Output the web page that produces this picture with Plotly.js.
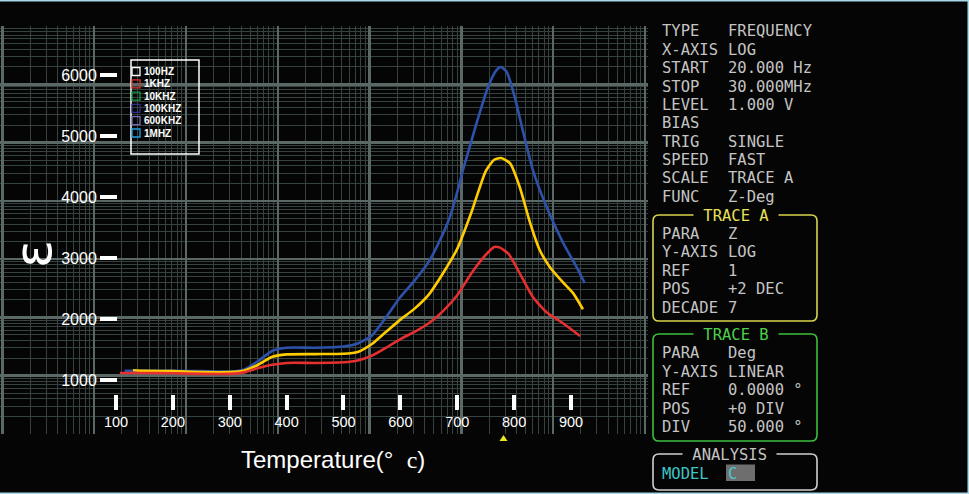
<!DOCTYPE html>
<html><head><meta charset="utf-8">
<script src="https://cdn.plot.ly/plotly-3.0.1.min.js"></script>
<style>html,body{margin:0;padding:0;background:#050505;overflow:hidden}#chart{width:969px;height:494px}</style>
</head><body><div id="chart"></div>
<script>
// ---- data (temperature in °C, permittivity) ----
const redTemp = [107,150,200,250,300,325,350,375,400,450,500,525,550,575,600,625,650,675,700,725,750,765,775,790,800,815,833,857,886,916];
const redEps  = [1115,1115,1110,1100,1100,1125,1195,1250,1280,1280,1290,1320,1400,1530,1670,1790,1930,2130,2390,2750,3050,3180,3170,3070,2920,2660,2360,2110,1930,1720];
const yellowTemp = [130,150,200,250,300,325,350,375,400,450,500,525,550,575,600,625,650,675,700,725,750,765,777,793,810,828,845,863,886,904,921];
const yellowEps  = [1160,1150,1145,1130,1130,1150,1250,1380,1420,1425,1430,1460,1590,1790,1990,2170,2400,2750,3150,3750,4420,4610,4640,4550,4160,3580,3130,2850,2600,2420,2160];
const blueTemp = [115,150,200,250,300,325,350,375,400,450,500,525,550,575,600,625,650,675,687,700,710,725,734,754,769,777,787,801,815,833,857,886,910,924];
const blueEps  = [1150,1150,1150,1145,1140,1170,1310,1480,1530,1530,1550,1600,1730,2030,2360,2630,2940,3400,3670,4080,4440,4920,5210,5800,6080,6130,6050,5640,5100,4440,3840,3250,2850,2590];

const xTickVals = [100,200,300,400,500,600,700,800,900];
const yTickVals = [1000,2000,3000,4000,5000,6000];
const legendLabels = ['100HZ','1KHZ','10KHZ','100KHZ','600KHZ','1MHZ'];
const legendColors = ['#ffffff','#e03030','#109a44','#2e2e8c','#7a6ab4','#1e9ee6'];

const setupLabels = ['TYPE','X-AXIS','START','STOP','LEVEL','BIAS','TRIG','SPEED','SCALE','FUNC'];
const setupValues = ['FREQUENCY','LOG','20.000 Hz','30.000MHz','1.000 V','','SINGLE','FAST','TRACE A','Z-Deg'];
const traceALabels = ['PARA','Y-AXIS','REF','POS','DECADE'];
const traceAValues = ['Z','LOG','1','+2 DEC','7'];
const traceBLabels = ['PARA','Y-AXIS','REF','POS','DIV'];
const traceBValues = ['Deg','LINEAR','0.0000 °','+0 DIV','50.000 °'];

// ---- pixel helpers (plot area 0..648 x 26..434) ----
const PW = 648, PH = 408, PB = 434;
const px = x => x / PW;
const py = y => (PB - y) / PH;

function rbox(x0, y0, x1, y1, r) {
  const P = (x, y) => px(x).toFixed(5) + ',' + py(y).toFixed(5);
  return 'M' + P(x0 + r, y0) + ' L' + P(x1 - r, y0) + ' Q' + P(x1, y0) + ' ' + P(x1, y0 + r) +
    ' L' + P(x1, y1 - r) + ' Q' + P(x1, y1) + ' ' + P(x1 - r, y1) +
    ' L' + P(x0 + r, y1) + ' Q' + P(x0, y1) + ' ' + P(x0, y1 - r) +
    ' L' + P(x0, y0 + r) + ' Q' + P(x0, y0) + ' ' + P(x0 + r, y0) + ' Z';
}

const lineTrace = (x, y, color) => ({
  x: x, y: y, type: 'scatter', mode: 'lines', xaxis: 'x2', yaxis: 'y2',
  line: {color: color, width: 2.6, shape: 'spline', smoothing: 0.6},
  hoverinfo: 'skip', showlegend: false
});

const data = [
  {x: [], y: [], type: 'scatter', mode: 'lines', xaxis: 'x', yaxis: 'y', showlegend: false, hoverinfo: 'skip'},
  lineTrace(blueTemp, blueEps, '#2c52aa'),
  lineTrace(yellowTemp, yellowEps, '#ffcc00'),
  lineTrace(redTemp, redEps, '#e63030')
];

const gridAxis = (range) => ({
  type: 'log', range: range, dtick: 1, showgrid: true, gridcolor: '#5a6965', gridwidth: 2.5,
  minor: {dtick: 'D1', showgrid: true, gridcolor: '#36423f', gridwidth: 1, ticks: ''},
  showticklabels: false, ticks: '', zeroline: false, showline: false, fixedrange: true
});

const shapes = [];
const annotations = [];

// legend box
shapes.push({type: 'rect', xref: 'paper', yref: 'paper', x0: px(131), x1: px(199), y0: py(60), y1: py(154),
  line: {color: '#ffffff', width: 1.5}, fillcolor: 'rgba(0,0,0,0)'});
legendLabels.forEach((lab, i) => {
  const yc = 71.5 + i * 12.3;
  shapes.push({type: 'rect', xref: 'paper', yref: 'paper', x0: px(132), x1: px(140), y0: py(yc - 4), y1: py(yc + 4),
    line: {color: legendColors[i], width: 1.3}, fillcolor: 'rgba(0,0,0,0)'});
  annotations.push({xref: 'paper', yref: 'paper', x: px(142), y: py(yc), xanchor: 'left', yanchor: 'middle',
    text: '<b>' + lab + '</b>', showarrow: false, font: {family: 'Liberation Sans, Arial', size: 10, color: '#ffffff'}});
});

// axis titles
annotations.push({xref: 'paper', yref: 'paper', x: px(33), y: py(254), text: 'ε', textangle: -90, showarrow: false,
  xanchor: 'center', yanchor: 'middle', font: {family: 'DejaVu Sans', size: 52, color: '#ffffff'}});
annotations.push({xref: 'paper', yref: 'paper', x: px(239), y: py(459), xanchor: 'left', yanchor: 'middle', showarrow: false,
  text: 'Temperature(°\u00a0\u00a0<span style="font-family:Liberation Serif">c</span>)',
  font: {family: 'Liberation Sans, Arial', size: 24, color: '#ffffff'}});

// marker triangle
shapes.push({type: 'path', xref: 'paper', yref: 'paper',
  path: 'M' + px(503.5) + ',' + py(435) + ' L' + px(507.5) + ',' + py(441) + ' L' + px(499.5) + ',' + py(441) + ' Z',
  fillcolor: '#e8e820', line: {width: 0}});

// page border (top, right, bottom)
const cyan = '#a8d8e8';
shapes.push({type: 'line', xref: 'paper', yref: 'paper', x0: px(0), x1: px(969), y0: py(0.5), y1: py(0.5), line: {color: cyan, width: 2}});
shapes.push({type: 'line', xref: 'paper', yref: 'paper', x0: px(968.5), x1: px(968.5), y0: py(0), y1: py(494), line: {color: cyan, width: 2}});
shapes.push({type: 'line', xref: 'paper', yref: 'paper', x0: px(0), x1: px(969), y0: py(493.5), y1: py(493.5), line: {color: cyan, width: 2}});

// right panel text
const mono = 'DejaVu Sans Mono, Liberation Mono, monospace';
const txt = (x, y, s, color, extra) => Object.assign({xref: 'paper', yref: 'paper', x: px(x), y: py(y), xanchor: 'left', yanchor: 'middle',
  text: s, showarrow: false, font: {family: mono, size: 15.5, color: color}}, extra || {});
const gray = '#c4c4c4';
setupLabels.forEach((l, i) => {
  const y = 31.5 + i * 18.37;
  annotations.push(txt(660, y, l, gray));
  if (setupValues[i]) annotations.push(txt(726, y, setupValues[i], gray));
});
// Trace A box
shapes.push({type: 'path', xref: 'paper', yref: 'paper', path: rbox(653, 215, 817, 321, 6), line: {color: '#d8d44e', width: 1.6}});
annotations.push(txt(735.5, 215.5, '\u00a0TRACE A\u00a0', '#e6e05a', {xanchor: 'center', bgcolor: '#050505', borderpad: 0}));
traceALabels.forEach((l, i) => {
  const y = 233.5 + i * 18.5;
  annotations.push(txt(660, y, l, gray));
  annotations.push(txt(726, y, traceAValues[i], gray));
});
// Trace B box
shapes.push({type: 'path', xref: 'paper', yref: 'paper', path: rbox(653, 334, 817, 441, 6), line: {color: '#3cc03c', width: 1.6}});
annotations.push(txt(735.5, 334.5, '\u00a0TRACE B\u00a0', '#4ed04e', {xanchor: 'center', bgcolor: '#050505', borderpad: 0}));
traceBLabels.forEach((l, i) => {
  const y = 353 + i * 18.5;
  annotations.push(txt(660, y, l, gray));
  annotations.push(txt(726, y, traceBValues[i], gray));
});
// Analysis box
shapes.push({type: 'path', xref: 'paper', yref: 'paper', path: rbox(653, 454, 817, 490, 6), line: {color: '#d0d0d0', width: 1.6}});
annotations.push(txt(729.5, 454.5, '\u00a0ANALYSIS\u00a0', gray, {xanchor: 'center', bgcolor: '#050505', borderpad: 0}));
shapes.push({type: 'rect', xref: 'paper', yref: 'paper', x0: px(726), x1: px(755), y0: py(464), y1: py(481), fillcolor: '#6e6e6e', line: {width: 0}});
annotations.push(txt(660, 474, 'MODEL', '#3ec6c6'));
annotations.push(txt(726, 474, 'C', '#4ec8d0'));

const layout = {
  width: 969, height: 494,
  margin: {l: 0, r: 321, t: 26, b: 60, pad: 0},
  paper_bgcolor: '#050505', plot_bgcolor: '#050505',
  showlegend: false,
  xaxis: gridAxis([-0.026, 7.033]),
  yaxis: gridAxis([0, 7]),
  xaxis2: {overlaying: 'x', anchor: 'free', position: 40 / PH, side: 'bottom', range: [-103.9, 1035.4],
    tickmode: 'array', tickvals: xTickVals, ticks: 'outside', ticklen: 15, tickwidth: 4, tickcolor: '#ffffff',
    tickfont: {family: 'Liberation Sans, Arial', size: 14.5, color: '#ffffff'},
    showgrid: false, zeroline: false, showline: false, fixedrange: true},
  yaxis2: {overlaying: 'y', anchor: 'free', position: 117 / PW, side: 'left', range: [115, 6803],
    tickmode: 'array', tickvals: yTickVals, ticks: 'outside', ticklen: 17, tickwidth: 4, tickcolor: '#ffffff',
    tickfont: {family: 'Liberation Sans, Arial', size: 16, color: '#ffffff'},
    showgrid: false, zeroline: false, showline: false, fixedrange: true},
  shapes: shapes,
  annotations: annotations
};

Plotly.newPlot('chart', data, layout, {displayModeBar: false, staticPlot: true});
</script>
</body></html>
